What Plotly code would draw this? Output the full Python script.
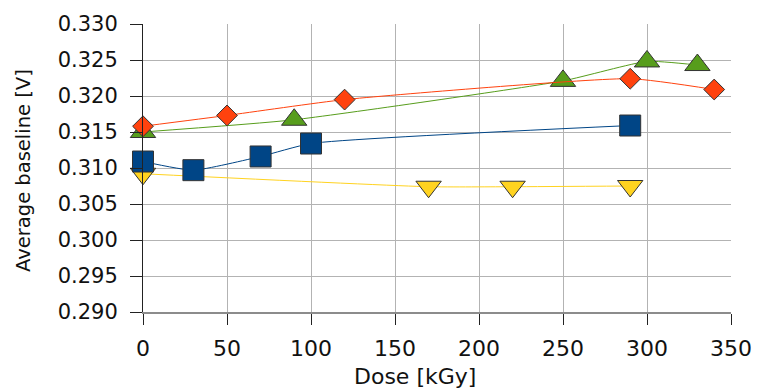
import plotly.graph_objects as go

# Data
red_x = [0, 50, 120, 290, 340]
red_y = [0.3158, 0.3173, 0.3195, 0.3224, 0.3209]
green_x = [0, 90, 250, 300, 330]
green_y = [0.3150, 0.3167, 0.3221, 0.3248, 0.3243]
blue_x = [0, 30, 70, 100, 290]
blue_y = [0.3109, 0.3097, 0.3116, 0.3134, 0.3159]
yellow_x = [0, 170, 220, 290]
yellow_y = [0.3092, 0.3074, 0.3074, 0.3075]

x_ticks = [0, 50, 100, 150, 200, 250, 300, 350]
y_ticks = [0.290, 0.295, 0.300, 0.305, 0.310, 0.315, 0.320, 0.325, 0.330]

FONT = "DejaVu Sans"
outline = dict(color="#333333", width=1)

fig = go.Figure()

def add(x, y, color, symbol, size):
    fig.add_trace(go.Scatter(
        x=x, y=y, mode="lines+markers",
        line=dict(color=color, width=1, shape="spline", smoothing=0.5),
        marker=dict(symbol=symbol, size=size, color=color, line=outline),
        cliponaxis=False, showlegend=False,
    ))

add(yellow_x, yellow_y, "#FFD320", "triangle-down", 22)
add(blue_x, blue_y, "#004586", "square", 21)
add(green_x, green_y, "#579D1C", "triangle-up", 22)
add(red_x, red_y, "#FF420E", "diamond", 16)

fig.update_layout(
    width=764, height=390,
    margin=dict(l=143, r=23, t=15, b=78),
    paper_bgcolor="white", plot_bgcolor="white",
    font=dict(family=FONT, color="#111111"),
    xaxis=dict(
        range=[0, 350], tickvals=x_ticks, ticktext=[str(v) for v in x_ticks],
        showgrid=True, gridcolor="#b3b3b3", gridwidth=1,
        zeroline=False, showline=True, linecolor="#8c8c8c", linewidth=1.5,
        ticks="outside", ticklen=11, tickcolor="#222222", tickwidth=1,
        tickfont=dict(family=FONT, size=22, color="#111111"),
        ticklabelstandoff=5,
    ),
    yaxis=dict(
        range=[0.290, 0.330], tickvals=y_ticks,
        ticktext=["%.3f" % v for v in y_ticks],
        showgrid=True, gridcolor="#b3b3b3", gridwidth=1,
        zeroline=False, showline=True, linecolor="#222222", linewidth=1,
        ticks="outside", ticklen=12, tickcolor="#222222", tickwidth=1,
        tickfont=dict(family=FONT, size=21, color="#111111"),
        ticklabelstandoff=8,
    ),
    annotations=[
        dict(text="Dose [kGy]", xref="paper", yref="paper",
             x=(420 - 143) / 598, y=-(379 - 312) / 297,
             xanchor="center", yanchor="middle", showarrow=False,
             font=dict(family=FONT, size=22, color="#111111")),
        dict(text="Average baseline [V]", xref="paper", yref="paper",
             x=-(143 - 22) / 598, y=(312 - 166.5) / 297, textangle=-90,
             xanchor="center", yanchor="middle", showarrow=False,
             font=dict(family=FONT, size=19.5, color="#111111")),
    ],
)

fig.write_html("out.html")
